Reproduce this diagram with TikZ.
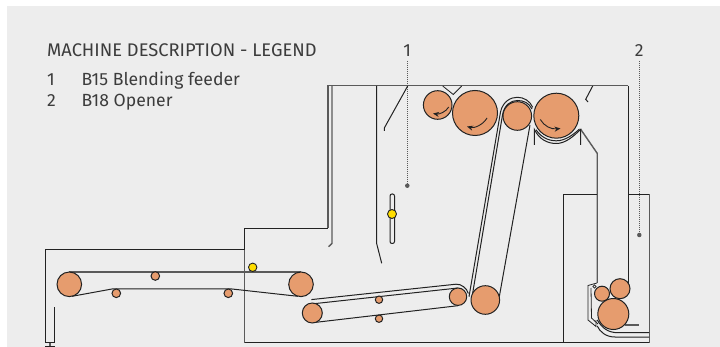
\documentclass[tikz,border=0pt]{standalone}
\usepackage{fontspec}
\setmainfont{Fira Sans}
\usetikzlibrary{arrows.meta}
\definecolor{bg}{HTML}{EDEDED}
\definecolor{roll}{HTML}{E69C6E}
\definecolor{ink}{HTML}{222222}
\definecolor{wall}{HTML}{5A5A5A}
\definecolor{txt}{HTML}{3C3C3C}
\definecolor{yel}{HTML}{FFDD00}
\tikzset{
  line/.style={draw=ink,line width=1pt},
  thick wall/.style={draw=wall,line width=1.4pt},
  thin/.style={draw=ink,line width=0.8pt},
  roller/.style={circle,draw=ink,fill=roll,line width=1pt,inner sep=0pt,minimum size=#1},
  sensor/.style={circle,draw=ink,fill=yel,line width=0.9pt,inner sep=0pt,minimum size=#1},
  leader/.style={draw=wall,line width=0.8pt,dash pattern=on 0.8pt off 1.2pt},
  leaderdot/.style={circle,fill=wall,inner sep=0pt,minimum size=4.5pt},
  rot/.style={draw=ink,line width=0.9pt,-{Stealth[length=6pt,width=5pt]}},
  label/.style={text=txt,font=\fontsize{17.6}{20}\selectfont,anchor=base west,inner sep=0pt}
}
\begin{document}
\begin{tikzpicture}[x=1pt,y=-1pt]
\useasboundingbox (0,0) rectangle (720,347);
\fill[bg] (7,6) rectangle (720,347);
% text
\node[label,font=\fontsize{18.3}{20}\selectfont] (title) at (47,56.5) {MACHINE DESCRIPTION - LEGEND};
\node[label] (n1) at (47,85.5) {1};
\node[label] (t1) at (81.5,85.5) {B15 Blending feeder};
\node[label] (n2) at (47,106.5) {2};
\node[label] (t2) at (81.5,106.5) {B18 Opener};
\node[label,anchor=base] (c1) at (407.3,56.5) {1};
\node[label,anchor=base] (c2) at (639.3,56.5) {2};
% leaders
\node[leaderdot] (d1) at (407.3,185.7) {};
\node[leaderdot] (d2) at (639.3,235) {};
\coordinate (l1) at (407.3,61);
\coordinate (l2) at (639.3,61);
\draw[leader] (l1) -- (d1);
\draw[leader] (l2) -- (d2);
% housing
\draw[thick wall] (328,228.3) -- (328,85.8) -- (628.3,85.8);
\draw[thick wall] (332,85.8) -- (332,243.5) -- (328.5,246.7);
\draw[line] (376.7,85.8) -- (376.7,243.7) -- (381.7,263.3);
\draw[line] (407.7,86) -- (384.3,128) -- (384.3,131);
\draw[thin] (442.7,86) -- (453.3,94.5) -- (461.7,86);
\draw[line] (592.7,86) -- (585.7,99.3) -- (588,102);
\draw[line] (628.5,85.8) -- (628.5,283);
\draw[thick wall] (580.7,129.3) -- (597.2,153.3) -- (597.2,283);
\draw[line] (597,194.3) -- (563.3,194.3) -- (563.3,342.7);
\draw[line] (628.5,194.3) -- (649.3,194.3);
\draw[thick wall] (649.3,194.3) -- (649.3,342.7);
\draw[line] (244.3,342.6) -- (649.3,342.6);
\draw[thick wall] (244.3,250) -- (244.3,342.6);
\draw[line] (244.3,228.3) -- (244.3,250);
\draw[line] (244.3,228.3) -- (328,228.3);
% infeed box
\draw[line] (244.3,250) -- (45.5,250) -- (45.5,342.3) -- (54.3,342.3) -- (54.3,307);
\draw[wall,line width=2.5pt] (50,342.5) -- (50,346);
\draw[line] (45,346.4) -- (55,346.4);
% lower belts
\draw[thick wall] (69.3,272) -- (301,272);
\draw[line] (72,296.3) -- (112,289) -- (232,289) -- (298,296.3);
\node[roller=24.6pt] (a1) at (69.3,284.3) {};
\node[roller=24.6pt] (a2) at (301,284.3) {};
\node[roller=8.6pt] (a3) at (155.3,276) {};
\node[roller=8.6pt] (a4) at (116.3,293.3) {};
\node[roller=8.6pt] (a5) at (228.3,293.3) {};
\node[sensor=8.4pt] (s1) at (252.7,267.3) {};
% inclined feed belt
\draw[line] (311.3,299.6) -- (456,284.2) .. controls (461,283.8) and (467,288) .. (468.3,293.5);
\draw[line] (313,303.8) -- (458,288);
\draw[line] (316,322.3) -- (458,305.7);
\node[roller=20pt] (b1) at (312.3,313) {};
\node[roller=17.4pt] (b2) at (458,296.7) {};
\node[roller=7.4pt] (b3) at (379,299.7) {};
\node[roller=7.4pt] (b4) at (379,318.7) {};
% steep belt
\draw[line] (469,296.7) -- (500.5,112) .. controls (503,101) and (511,97.3) .. (517.3,97.3) .. controls (524,97.3) and (530,101) .. (532.7,107.3);
\draw[line] (472.7,293) -- (502.5,115) .. controls (504,105) and (511,100.5) .. (517.3,100.5) .. controls (524,100.5) and (529,103) .. (532,109);
\draw[line] (530,125) -- (499.3,296.7);
\node[roller=28.6pt] (b5) at (485.3,300) {};
% slot and sensor
\draw[line,fill=bg,rounded corners=2pt] (390,194) rectangle (394.5,243.5);
\node[sensor=9pt] (s2) at (392,214) {};
% top rollers
\node[roller=28.6pt] (r1) at (437.7,105) {};
\node[roller=45pt] (r2) at (475,113) {};
\node[roller=28.6pt] (r3) at (517.3,116) {};
\node[roller=45pt] (r4) at (556.3,115.7) {};
\draw[rot] (448.7,107) .. controls (446,112) and (439,114.5) .. (433,113.5);
\draw[rot] (487,118) .. controls (483,125) and (474,128.5) .. (467,126.5);
\draw[rot] (540.3,119.5) .. controls (544,126) and (551,129.5) .. (560.5,128.5);
% trough under right roller
\draw[line] (534.3,145) -- (534.3,129.3) .. controls (539,139) and (547,143.5) .. (556.3,143.5) .. controls (565,143.5) and (573,137) .. (580.7,129.3) -- (580.7,145);
\draw[line] (536,129.8) .. controls (541,137) and (548,140.8) .. (556.3,140.8) .. controls (565,140.8) and (573,135) .. (579.5,129);
% opener bottom
\draw[thick wall] (625,325) -- (639,325);
\draw[thin] (597,283) -- (588,285.5) -- (588,320) -- (596,326.5) -- (596,320);
\draw[thin] (591,288) -- (591.5,318) -- (598,324);
\draw[thin] (594.5,286.5) circle (1.6);
\draw[line] (597.2,326) .. controls (600,332) and (606,337) .. (615,337) -- (649,337);
\draw[line] (597.2,320) .. controls (602,328) and (608,332.7) .. (618,332.7) -- (649,332.7);
\node[roller=20pt] (o1) at (620,288.7) {};
\node[roller=15pt] (o2) at (602,293.7) {};
\node[roller=31pt] (o3) at (613.3,314) {};
\end{tikzpicture}
\end{document}
